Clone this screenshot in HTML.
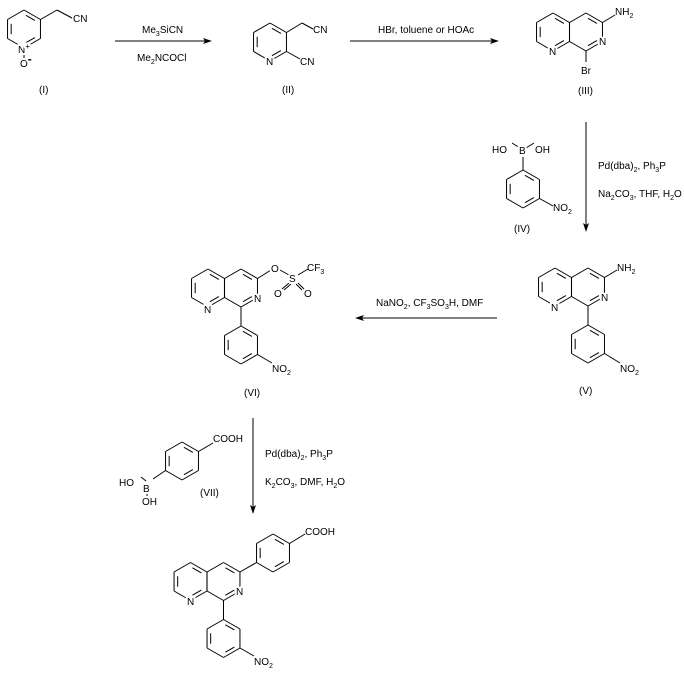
<!DOCTYPE html>
<html><head><meta charset="utf-8">
<style>
html,body{margin:0;padding:0;background:#fff;}
svg{display:block;}
text{font-family:"Liberation Sans",Arial,sans-serif;font-size:10px;fill:#000;}
.a{paint-order:stroke;stroke:#fff;stroke-width:4px;stroke-linejoin:round;}
</style></head>
<body>
<svg id="s" width="684" height="674" viewBox="0 0 684 674" xmlns="http://www.w3.org/2000/svg">
<g id="b" stroke="#000" stroke-width="1" fill="none"></g>
<g stroke="#000" stroke-width="1">
<line x1="115" y1="41" x2="208" y2="41"/>
<line x1="350" y1="41" x2="495" y2="41"/>
<line x1="586" y1="122" x2="586" y2="228"/>
<line x1="497" y1="318" x2="360" y2="318"/>
<line x1="253" y1="418" x2="253" y2="510"/>
</g>
<g fill="#000">
<polygon points="212,41 203,38 205,41 203,44"/>
<polygon points="499,41 490,38 492,41 490,44"/>
<polygon points="586,232 583,223 586,225 589,223"/>
<polygon points="355,318 364,315 362,318 364,321"/>
<polygon points="253,514 250,505 253,507 256,505"/>
</g>
</svg>
<script>
var g=document.getElementById('b');
function L(x1,y1,x2,y2){var l=document.createElementNS('http://www.w3.org/2000/svg','line');l.setAttribute('x1',x1);l.setAttribute('y1',y1);l.setAttribute('x2',x2);l.setAttribute('y2',y2);g.appendChild(l);}
function ring(cx,cy,r,d){var v=[];for(var i=0;i<6;i++){var a=(-90+60*i)*Math.PI/180;v.push([cx+r*Math.cos(a),cy+r*Math.sin(a)]);}
for(i=0;i<6;i++){var p=v[i],q=v[(i+1)%6];L(p[0],p[1],q[0],q[1]);}
d.forEach(function(i){var p=v[i],q=v[(i+1)%6];var f=0.78,s=0.15;
var p2=[cx+(p[0]-cx)*f,cy+(p[1]-cy)*f],q2=[cx+(q[0]-cx)*f,cy+(q[1]-cy)*f];
var dx=q2[0]-p2[0],dy=q2[1]-p2[1];L(p2[0]+dx*s,p2[1]+dy*s,q2[0]-dx*s,q2[1]-dy*s);});return v;}
function naph(cx,cy){ring(cx,cy,19,[4,2,0]);ring(cx+33,cy,19,[0,2]);}
// I
ring(24,29,19,[4,0,2]);L(40.5,19.5,57,10);L(57,10,72,18);L(24,52,24,58);
// II
ring(270,42,19,[4,0,2]);L(286.5,32.5,302,23);L(302,23,313,29);L(286.5,51.5,300,59);
// III
naph(553,32);L(602.5,22.5,615,15);L(586,51,586,62);
// IV
ring(523,189,19,[0,2,4]);L(523,170,523,157);L(520,148,512,143);L(526,148,534,143);L(539.5,198.5,553,206);
// V
naph(555,287);L(604.5,277.5,617,270);L(588,306,588,325);ring(588,344,19,[0,2,4]);L(604.5,353.5,620,363);
// VI
naph(208,288);L(257.5,278.5,271,270);L(280,270,289,275);L(298,275,308,269);L(289,283,282,289);L(291,284,284,290);L(298,283,304,289);L(296,284,302,290);
L(241,307,241,326);ring(241,345,19,[0,2,4]);L(257.5,354.5,272,363);
// VII
ring(182,461,19,[0,2,4]);L(198.5,451.5,213,443);L(165.5,470.5,153,479);L(146,481,141,477);L(147,492,147,496);
// final
naph(190.5,581.5);L(240,572,256.5,562.5);ring(273,553,19,[0,2,4]);L(289.5,543.5,305,534);
L(223.5,600.5,223.5,619.5);ring(223.5,638.5,19,[0,2,4]);L(240,648,254,656);
</script>
<svg width="684" height="674" viewBox="0 0 684 674" style="position:absolute;left:0;top:0" xmlns="http://www.w3.org/2000/svg">
<text x="73" y="22">CN</text>
<text class="a" x="18" y="53">N<tspan font-size="8" dy="-4">+</tspan></text>
<text class="a" x="20" y="67">O<tspan font-size="12" font-weight="bold" dy="-4">-</tspan></text>
<text x="39" y="93">(I)</text>
<text x="142" y="33">Me<tspan font-size="7" dy="3">3</tspan><tspan dy="-3">SiCN</tspan></text>
<text x="137" y="61">Me<tspan font-size="7" dy="3">2</tspan><tspan dy="-3">NCOCl</tspan></text>
<text x="313" y="33">CN</text>
<text x="300" y="65">CN</text>
<text class="a" x="266" y="65">N</text>
<text x="282" y="93">(II)</text>
<text x="378" y="33">HBr, toluene or HOAc</text>
<text x="615" y="15">NH<tspan font-size="7" dy="3">2</tspan></text>
<text class="a" x="599" y="45">N</text>
<text class="a" x="549" y="55">N</text>
<text x="581" y="74">Br</text>
<text x="578" y="94">(III)</text>
<text x="492" y="153">HO</text>
<text x="535" y="153">OH</text>
<text class="a" x="519" y="154">B</text>
<text x="553" y="211">NO<tspan font-size="7" dy="3">2</tspan></text>
<text x="514" y="232">(IV)</text>
<text x="598" y="169">Pd(dba)<tspan font-size="7" dy="3">2</tspan><tspan dy="-3">, Ph</tspan><tspan font-size="7" dy="3">3</tspan><tspan dy="-3">P</tspan></text>
<text x="598" y="197">Na<tspan font-size="7" dy="3">2</tspan><tspan dy="-3">CO</tspan><tspan font-size="7" dy="3">3</tspan><tspan dy="-3">, THF, H</tspan><tspan font-size="7" dy="3">2</tspan><tspan dy="-3">O</tspan></text>
<text x="617" y="271">NH<tspan font-size="7" dy="3">2</tspan></text>
<text class="a" x="601" y="301">N</text>
<text class="a" x="551" y="311">N</text>
<text x="620" y="372">NO<tspan font-size="7" dy="3">2</tspan></text>
<text x="579" y="394">(V)</text>
<text x="376" y="306">NaNO<tspan font-size="7" dy="3">2</tspan><tspan dy="-3">, CF</tspan><tspan font-size="7" dy="3">3</tspan><tspan dy="-3">SO</tspan><tspan font-size="7" dy="3">3</tspan><tspan dy="-3">H, DMF</tspan></text>
<text class="a" x="271" y="272">O</text>
<text class="a" x="289" y="282">S</text>
<text x="307" y="271">CF<tspan font-size="7" dy="3">3</tspan></text>
<text class="a" x="274" y="297">O</text>
<text class="a" x="304" y="297">O</text>
<text class="a" x="254" y="302">N</text>
<text class="a" x="204" y="313">N</text>
<text x="272" y="372">NO<tspan font-size="7" dy="3">2</tspan></text>
<text x="244" y="396">(VI)</text>
<text x="213" y="442">COOH</text>
<text x="119" y="486">HO</text>
<text class="a" x="143" y="492">B</text>
<text x="142" y="505">OH</text>
<text x="200" y="496">(VII)</text>
<text x="265" y="457">Pd(dba)<tspan font-size="7" dy="3">2</tspan><tspan dy="-3">, Ph</tspan><tspan font-size="7" dy="3">3</tspan><tspan dy="-3">P</tspan></text>
<text x="265" y="485">K<tspan font-size="7" dy="3">2</tspan><tspan dy="-3">CO</tspan><tspan font-size="7" dy="3">3</tspan><tspan dy="-3">, DMF, H</tspan><tspan font-size="7" dy="3">2</tspan><tspan dy="-3">O</tspan></text>
<text x="305" y="535">COOH</text>
<text class="a" x="236" y="595">N</text>
<text class="a" x="187" y="605">N</text>
<text x="254" y="665">NO<tspan font-size="7" dy="3">2</tspan></text>
</svg>
</body></html>
